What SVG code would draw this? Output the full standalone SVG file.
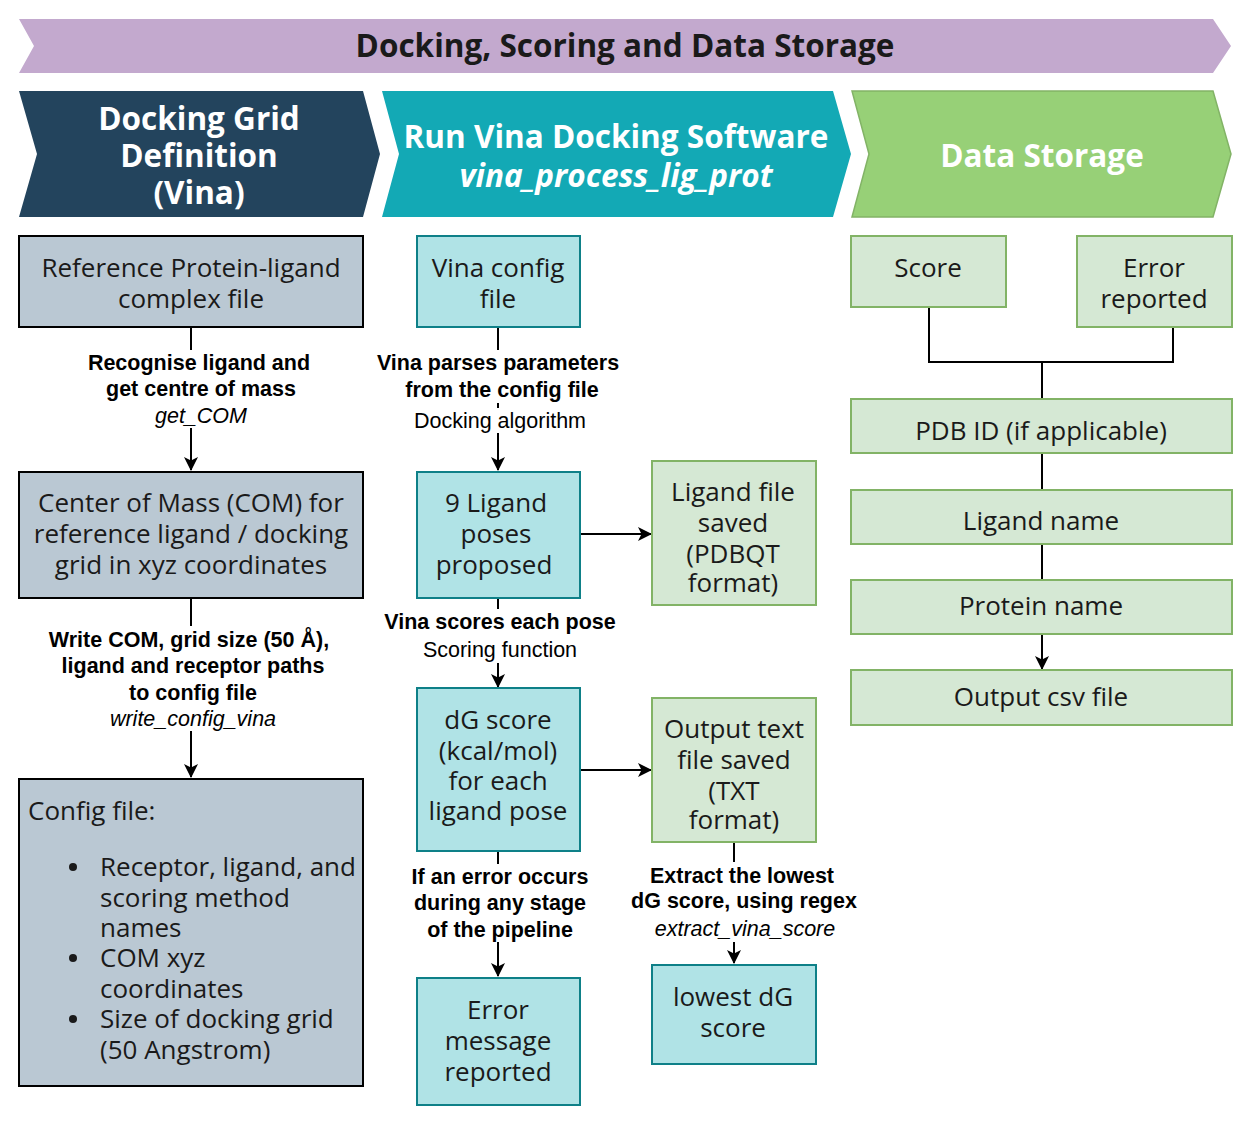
<svg xmlns="http://www.w3.org/2000/svg" width="1251" height="1124" viewBox="0 0 1251 1124">
<defs>
<marker id="arr" viewBox="0 0 14 14" refX="13" refY="7" markerWidth="14" markerHeight="14" markerUnits="userSpaceOnUse" orient="auto">
<path d="M0,0 L14,7 L0,14 L3.5,7 z" fill="#000"/>
</marker>
<style>
.hd{font-family:"Open Sans","Noto Sans","DejaVu Sans",sans-serif;font-weight:700;text-anchor:middle;font-size:31.5px;}
.bx{font-family:"Open Sans","Noto Sans","DejaVu Sans",sans-serif;font-size:26px;fill:#1a1a1a;text-anchor:middle;}
.st{text-anchor:start;}
.lb{font-family:"Liberation Sans",Arial,sans-serif;font-size:21.5px;fill:#000;text-anchor:middle;}
.b{font-weight:700;}
.i{font-style:italic;}
.gray{fill:#bac8d3;stroke:#000;stroke-width:2;}
.teal{fill:#b0e3e6;stroke:#0e8088;stroke-width:2;}
.green{fill:#d5e8d4;stroke:#82b366;stroke-width:2;}
.ln{fill:none;stroke:#000;stroke-width:2;}
</style>
</defs>
<rect width="1251" height="1124" fill="#fff"/>

<g id="banner">
<polygon points="19,19 1213,19 1231,46 1213,73 19,73 34,46" fill="#c3a9ce"/>
<text class="hd" x="625" y="57" fill="#1a1a1a">Docking, Scoring and Data Storage</text>
</g>

<g id="phase-grid">
<polygon points="19,91 363,91 380,154 363,217 19,217 37,154" fill="#23445d"/>
<text class="hd" x="199" y="130" fill="#fff">Docking Grid</text>
<text class="hd" x="199" y="167" fill="#fff">Definition</text>
<text class="hd" x="199" y="204" fill="#fff">(Vina)</text>
</g>
<g id="phase-vina">
<polygon points="382,91 833,91 851,154 833,217 382,217 399,154" fill="#13a9b5"/>
<text class="hd" x="616" y="148" fill="#fff">Run Vina Docking Software</text>
<text class="hd i" x="616" y="187" fill="#fff">vina_process_lig_prot</text>
</g>
<g id="phase-storage">
<polygon points="852,91 1213,91 1231,154 1213,217 852,217 869,154" fill="#97d077" stroke="#82b366" stroke-width="1.5"/>
<text class="hd" x="1042" y="167" fill="#fff">Data Storage</text>
</g>

<g id="connectors">
<line class="ln" x1="191" y1="327" x2="191" y2="350"/>
<line class="ln" x1="191" y1="428" x2="191" y2="470" marker-end="url(#arr)"/>
<line class="ln" x1="191" y1="598" x2="191" y2="626"/>
<line class="ln" x1="191" y1="731" x2="191" y2="777" marker-end="url(#arr)"/>
<line class="ln" x1="498" y1="327" x2="498" y2="350"/>
<line class="ln" x1="498" y1="403" x2="498" y2="408"/>
<line class="ln" x1="498" y1="433" x2="498" y2="470" marker-end="url(#arr)"/>
<line class="ln" x1="580" y1="534" x2="651" y2="534" marker-end="url(#arr)"/>
<line class="ln" x1="498" y1="598" x2="498" y2="609"/>
<line class="ln" x1="498" y1="663" x2="498" y2="687" marker-end="url(#arr)"/>
<line class="ln" x1="580" y1="770" x2="651" y2="770" marker-end="url(#arr)"/>
<line class="ln" x1="498" y1="851" x2="498" y2="864"/>
<line class="ln" x1="498" y1="942" x2="498" y2="976" marker-end="url(#arr)"/>
<line class="ln" x1="734" y1="842" x2="734" y2="862"/>
<line class="ln" x1="734" y1="942" x2="734" y2="963" marker-end="url(#arr)"/>
<polyline class="ln" points="929,307 929,362 1173,362 1173,327"/>
<line class="ln" x1="1042" y1="362" x2="1042" y2="399"/>
<line class="ln" x1="1042" y1="453" x2="1042" y2="490"/>
<line class="ln" x1="1042" y1="544" x2="1042" y2="580"/>
<line class="ln" x1="1042" y1="634" x2="1042" y2="669" marker-end="url(#arr)"/>

<text class="lb b" x="199" y="370">Recognise ligand and</text>
<text class="lb b" x="201" y="396">get centre of mass</text>
<text class="lb i" x="201" y="423">get_COM</text>
<text class="lb b" x="498" y="370">Vina parses parameters</text>
<text class="lb b" x="502" y="397">from the config file</text>
<text class="lb" x="500" y="428">Docking algorithm</text>
<text class="lb b" x="189" y="647">Write COM, grid size (50 Å),</text>
<text class="lb b" x="193" y="673">ligand and receptor paths</text>
<text class="lb b" x="193" y="700">to config file</text>
<text class="lb i" x="193" y="726">write_config_vina</text>
<text class="lb b" x="500" y="629">Vina scores each pose</text>
<text class="lb" x="500" y="657">Scoring function</text>
<text class="lb b" x="500" y="884">If an error occurs</text>
<text class="lb b" x="500" y="910">during any stage</text>
<text class="lb b" x="500" y="937">of the pipeline</text>
<text class="lb b" x="742" y="883">Extract the lowest</text>
<text class="lb b" x="744" y="908">dG score, using regex</text>
<text class="lb i" x="745" y="936">extract_vina_score</text>
</g>

<g id="ref-complex">
<rect class="gray" x="19" y="236" width="344" height="91"/>
<text class="bx" x="191" y="277">Reference Protein-ligand</text>
<text class="bx" x="191" y="308">complex file</text>
</g>
<g id="com">
<rect class="gray" x="19" y="472" width="344" height="126"/>
<text class="bx" x="191" y="512">Center of Mass (COM) for</text>
<text class="bx" x="191" y="543">reference ligand / docking</text>
<text class="bx" x="191" y="574">grid in xyz coordinates</text>
</g>
<g id="config">
<rect class="gray" x="19" y="779" width="344" height="307"/>
<text class="bx st" x="28" y="820">Config file:</text>
<circle cx="73" cy="867" r="4" fill="#1a1a1a"/>
<circle cx="73" cy="958" r="4" fill="#1a1a1a"/>
<circle cx="73" cy="1019" r="4" fill="#1a1a1a"/>
<text class="bx st" x="100" y="876">Receptor, ligand, and</text>
<text class="bx st" x="100" y="907">scoring method</text>
<text class="bx st" x="100" y="937">names</text>
<text class="bx st" x="100" y="967">COM xyz</text>
<text class="bx st" x="100" y="998">coordinates</text>
<text class="bx st" x="100" y="1028">Size of docking grid</text>
<text class="bx st" x="100" y="1059">(50 Angstrom)</text>
</g>

<g id="vina-config">
<rect class="teal" x="417" y="236" width="163" height="91"/>
<text class="bx" x="498" y="277">Vina config</text>
<text class="bx" x="498" y="308">file</text>
</g>
<g id="poses">
<rect class="teal" x="417" y="472" width="163" height="126"/>
<text class="bx" x="496" y="512">9 Ligand</text>
<text class="bx" x="496" y="543">poses</text>
<text class="bx" x="494" y="574">proposed</text>
</g>
<g id="ligand-file">
<rect class="green" x="652" y="461" width="164" height="144"/>
<text class="bx" x="733" y="501">Ligand file</text>
<text class="bx" x="733" y="532">saved</text>
<text class="bx" x="733" y="563">(PDBQT</text>
<text class="bx" x="733" y="592">format)</text>
</g>
<g id="dg-score">
<rect class="teal" x="417" y="688" width="163" height="163"/>
<text class="bx" x="498" y="729">dG score</text>
<text class="bx" x="498" y="760">(kcal/mol)</text>
<text class="bx" x="498" y="790">for each</text>
<text class="bx" x="498" y="820">ligand pose</text>
</g>
<g id="output-txt">
<rect class="green" x="652" y="698" width="164" height="144"/>
<text class="bx" x="734" y="738">Output text</text>
<text class="bx" x="734" y="769">file saved</text>
<text class="bx" x="734" y="800">(TXT</text>
<text class="bx" x="734" y="829">format)</text>
</g>
<g id="error-msg">
<rect class="teal" x="417" y="978" width="163" height="127"/>
<text class="bx" x="498" y="1019">Error</text>
<text class="bx" x="498" y="1050">message</text>
<text class="bx" x="498" y="1081">reported</text>
</g>
<g id="lowest-dg">
<rect class="teal" x="652" y="965" width="164" height="99"/>
<text class="bx" x="733" y="1006">lowest dG</text>
<text class="bx" x="733" y="1037">score</text>
</g>

<g id="score">
<rect class="green" x="851" y="236" width="155" height="71"/>
<text class="bx" x="928" y="277">Score</text>
</g>
<g id="error-reported">
<rect class="green" x="1077" y="236" width="155" height="91"/>
<text class="bx" x="1154" y="277">Error</text>
<text class="bx" x="1154" y="308">reported</text>
</g>
<g id="pdb-id">
<rect class="green" x="851" y="399" width="381" height="54"/>
<text class="bx" x="1041" y="440">PDB ID (if applicable)</text>
</g>
<g id="ligand-name">
<rect class="green" x="851" y="490" width="381" height="54"/>
<text class="bx" x="1041" y="530">Ligand name</text>
</g>
<g id="protein-name">
<rect class="green" x="851" y="580" width="381" height="54"/>
<text class="bx" x="1041" y="615">Protein name</text>
</g>
<g id="output-csv">
<rect class="green" x="851" y="670" width="381" height="55"/>
<text class="bx" x="1041" y="706">Output csv file</text>
</g>
</svg>
